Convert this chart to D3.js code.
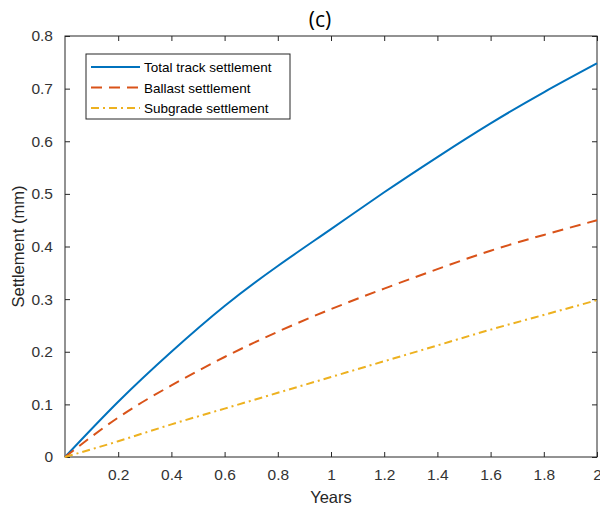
<!DOCTYPE html>
<html>
<head>
<meta charset="utf-8">
<script src="https://cdn.jsdelivr.net/npm/d3@7"></script>
<style>
  body { margin: 0; background: #fff; }
  text { font-family: "Liberation Sans", Arial, sans-serif; }
</style>
</head>
<body>
<svg id="chart"></svg>
<script>
// data
const years = [0, 0.2, 0.4, 0.6, 0.8, 1.0, 1.2, 1.4, 1.6, 1.8, 2.0]
const total = [0, 0.105, 0.2, 0.287, 0.363, 0.433, 0.503, 0.57, 0.634, 0.693, 0.748]
const ballast = [0, 0.075, 0.136, 0.19, 0.238, 0.281, 0.32, 0.357, 0.392, 0.422, 0.45]
const subgrade = [0, 0.03, 0.062, 0.092, 0.122, 0.152, 0.182, 0.212, 0.242, 0.27, 0.298]
const xTicks = [0.2, 0.4, 0.6, 0.8, 1, 1.2, 1.4, 1.6, 1.8, 2]
const yTicks = [0, 0.1, 0.2, 0.3, 0.4, 0.5, 0.6, 0.7, 0.8]
const seriesNames = ['Total track settlement', 'Ballast settlement', 'Subgrade settlement']

const width = 600, height = 511
const margin = {top: 36, right: 3, bottom: 54, left: 65}
const axisColor = '#262626'

const svg = d3.select('#chart').attr('width', width).attr('height', height)

const x = d3.scaleLinear().domain([0, 2]).range([margin.left, width - margin.right])
const y = d3.scaleLinear().domain([0, 0.8]).range([height - margin.bottom, margin.top])

const fmt = d => String(+d.toFixed(1))

// bottom axis
svg.append('g')
    .attr('transform', `translate(0, ${height - margin.bottom})`)
    .call(d3.axisBottom(x).tickValues(xTicks).tickFormat(fmt).tickSizeInner(-5).tickSizeOuter(0).tickPadding(12))
    .call(g => g.select('.domain').remove())
    .call(g => g.selectAll('line').attr('stroke', axisColor))
    .call(g => g.selectAll('text').attr('font-size', 15.5).attr('fill', '#333'))
// top ticks
svg.append('g')
    .attr('transform', `translate(0, ${margin.top})`)
    .call(d3.axisTop(x).tickValues(xTicks).tickFormat('').tickSizeInner(-5).tickSizeOuter(0))
    .call(g => g.select('.domain').remove())
    .call(g => g.selectAll('line').attr('stroke', axisColor))
// left axis
svg.append('g')
    .attr('transform', `translate(${margin.left}, 0)`)
    .call(d3.axisLeft(y).tickValues(yTicks).tickFormat(fmt).tickSizeInner(-5).tickSizeOuter(0).tickPadding(12))
    .call(g => g.select('.domain').remove())
    .call(g => g.selectAll('line').attr('stroke', axisColor))
    .call(g => g.selectAll('text').attr('font-size', 15.5).attr('fill', '#333'))
// right ticks
svg.append('g')
    .attr('transform', `translate(${width - margin.right}, 0)`)
    .call(d3.axisRight(y).tickValues(yTicks).tickFormat('').tickSizeInner(-5).tickSizeOuter(0))
    .call(g => g.select('.domain').remove())
    .call(g => g.selectAll('line').attr('stroke', axisColor))

// box
svg.append('rect')
    .attr('x', margin.left).attr('y', margin.top)
    .attr('width', width - margin.left - margin.right)
    .attr('height', height - margin.top - margin.bottom)
    .attr('fill', 'none').attr('stroke', axisColor).attr('stroke-width', 1)

// lines
const styles = [
    {data: total, color: '#0072BD', dash: null},
    {data: ballast, color: '#D95319', dash: '11,7'},
    {data: subgrade, color: '#EDB120', dash: '8,4,2,4'}
]
const line = d3.line()
    .x((d, i) => x(years[i]))
    .y(d => y(d))
    .curve(d3.curveNatural)

styles.forEach(s => {
    svg.append('path')
        .datum(s.data)
        .attr('fill', 'none')
        .attr('stroke', s.color)
        .attr('stroke-width', 2)
        .attr('stroke-dasharray', s.dash)
        .attr('d', line)
})

// legend
const legend = svg.append('g')
legend.append('rect')
    .attr('x', 86).attr('y', 54).attr('width', 204).attr('height', 65)
    .attr('fill', '#fff').attr('stroke', axisColor).attr('stroke-width', 1)
styles.forEach((s, i) => {
    const ly = 67 + i * 20.5
    legend.append('line')
        .attr('x1', 91).attr('x2', 140).attr('y1', ly).attr('y2', ly)
        .attr('stroke', s.color).attr('stroke-width', 2)
        .attr('stroke-dasharray', s.dash)
    legend.append('text')
        .attr('x', 144).attr('y', ly + 5)
        .attr('font-size', 13.5).attr('fill', '#000')
        .text(seriesNames[i])
})

// labels
svg.append('text')
    .attr('x', 320).attr('y', 27)
    .attr('text-anchor', 'middle').attr('font-size', 21).attr('fill', '#000')
    .style('font-family', '"Open Sans", sans-serif')
    .text('(c)')
svg.append('text')
    .attr('x', (margin.left + width - margin.right) / 2).attr('y', 503)
    .attr('text-anchor', 'middle').attr('font-size', 16.5).attr('fill', axisColor)
    .text('Years')
svg.append('text')
    .attr('transform', `translate(24, ${(margin.top + height - margin.bottom) / 2}) rotate(-90)`)
    .attr('text-anchor', 'middle').attr('font-size', 16.5).attr('fill', axisColor)
    .text('Settlement (mm)')
</script>
</body>
</html>
